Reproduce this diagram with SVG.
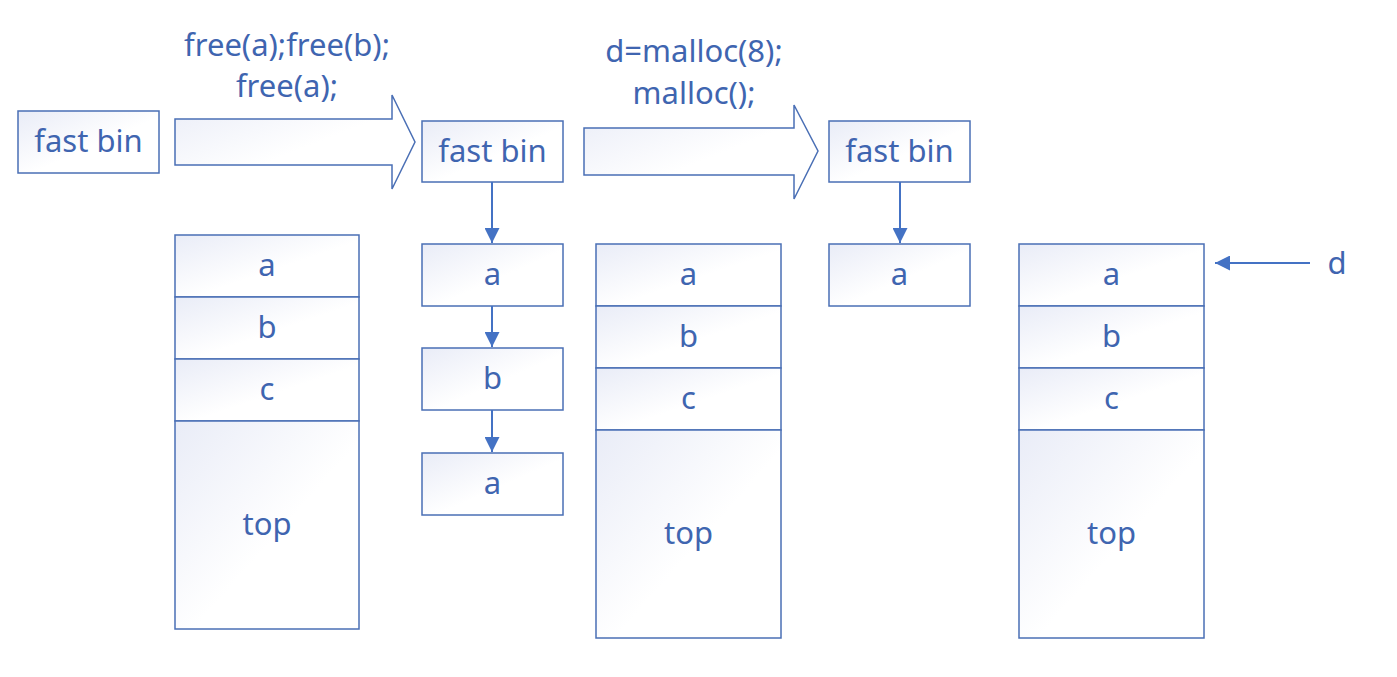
<svg xmlns="http://www.w3.org/2000/svg" width="1397" height="677" viewBox="0 0 1397 677">
<defs>
<linearGradient id="g" x1="0" y1="0" x2="1" y2="1">
<stop offset="0" stop-color="#E9ECF7"/>
<stop offset="0.55" stop-color="#FFFFFF"/>
<stop offset="1" stop-color="#FFFFFF"/>
</linearGradient>
<marker id="ah" viewBox="0 0 10 10" refX="10" refY="5" markerWidth="7.5" markerHeight="7.5" markerUnits="strokeWidth" orient="auto">
<path d="M0,0 L10,5 L0,10 Z" fill="#4472C4"/>
</marker>
</defs>
<style>
.b{fill:url(#g);stroke:#4A6FB5;stroke-width:1.5}
.t{font-family:"Noto Sans","Open Sans",sans-serif;font-size:31px;fill:#3F65B0;text-anchor:middle}
.c{stroke:#4472C4;stroke-width:2;fill:none;marker-end:url(#ah)}
</style>
<rect width="1397" height="677" fill="#FFFFFF"/>

<g id="bin1"><rect class="b" x="18" y="111" width="141" height="62"/><text class="t" x="88.5" y="152">fast bin</text></g>

<g id="op1">
<path class="b" d="M175,119 L392,119 L392,95 L415,142 L392,189 L392,165 L175,165 Z"/>
<text class="t" x="287" y="56">free(a);free(b);</text>
<text class="t" x="287" y="97">free(a);</text>
</g>

<g id="heap1">
<rect class="b" x="175" y="235" width="184" height="62"/><text class="t" x="267" y="276">a</text>
<rect class="b" x="175" y="297" width="184" height="62"/><text class="t" x="267" y="338">b</text>
<rect class="b" x="175" y="359" width="184" height="62"/><text class="t" x="267" y="400">c</text>
<rect class="b" x="175" y="421" width="184" height="208"/><text class="t" x="267" y="535">top</text>
</g>

<g id="bin2"><rect class="b" x="422" y="121" width="141" height="61"/><text class="t" x="492.5" y="162">fast bin</text></g>
<g id="bin2a"><rect class="b" x="422" y="244" width="141" height="62"/><text class="t" x="492.5" y="285">a</text></g>
<g id="bin2b"><rect class="b" x="422" y="348" width="141" height="62"/><text class="t" x="492.5" y="389">b</text></g>
<g id="bin2c"><rect class="b" x="422" y="453" width="141" height="62"/><text class="t" x="492.5" y="494">a</text></g>

<g id="op2">
<path class="b" d="M584,128 L794,128 L794,105 L818,151 L794,199 L794,175 L584,175 Z"/>
<text class="t" x="694" y="62">d=malloc(8);</text>
<text class="t" x="694" y="104">malloc();</text>
</g>

<g id="heap2">
<rect class="b" x="596" y="244" width="185" height="62"/><text class="t" x="688.5" y="285">a</text>
<rect class="b" x="596" y="306" width="185" height="62"/><text class="t" x="688.5" y="347">b</text>
<rect class="b" x="596" y="368" width="185" height="62"/><text class="t" x="688.5" y="409">c</text>
<rect class="b" x="596" y="430" width="185" height="208"/><text class="t" x="688.5" y="544">top</text>
</g>

<g id="bin3"><rect class="b" x="829" y="121" width="141" height="61"/><text class="t" x="899.5" y="162">fast bin</text></g>
<g id="bin3a"><rect class="b" x="829" y="244" width="141" height="62"/><text class="t" x="899.5" y="285">a</text></g>

<g id="heap3">
<rect class="b" x="1019" y="244" width="185" height="62"/><text class="t" x="1111.5" y="285">a</text>
<rect class="b" x="1019" y="306" width="185" height="62"/><text class="t" x="1111.5" y="347">b</text>
<rect class="b" x="1019" y="368" width="185" height="62"/><text class="t" x="1111.5" y="409">c</text>
<rect class="b" x="1019" y="430" width="185" height="208"/><text class="t" x="1111.5" y="544">top</text>
</g>

<g id="dlabel"><text class="t" x="1337" y="274">d</text></g>

<g id="connectors">
<line class="c" x1="492" y1="182" x2="492" y2="243"/>
<line class="c" x1="492" y1="306" x2="492" y2="347"/>
<line class="c" x1="492" y1="410" x2="492" y2="452"/>
<line class="c" x1="900" y1="182" x2="900" y2="243"/>
<line class="c" x1="1310" y1="263" x2="1215" y2="263"/>
</g>
</svg>
